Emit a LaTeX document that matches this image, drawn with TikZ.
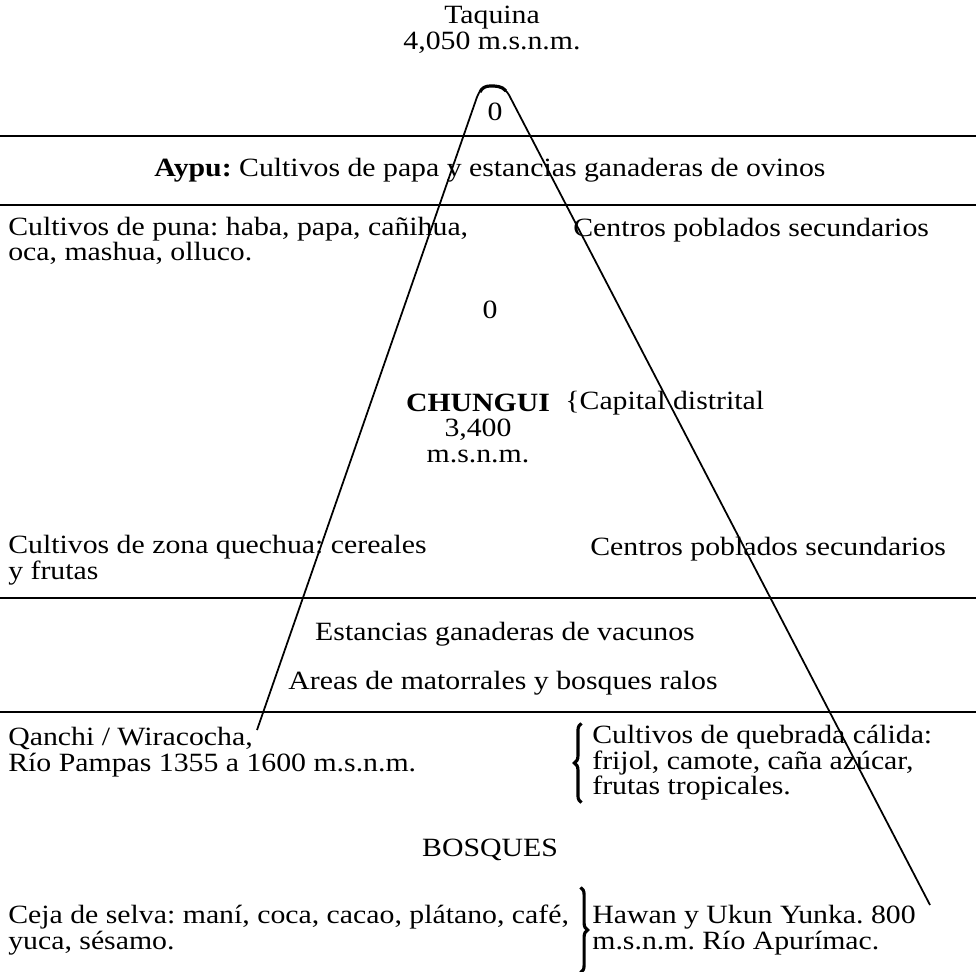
\documentclass[tikz,border=0pt]{standalone}
\usepackage{fontspec}
\setmainfont[FakeStretch=1.13]{Liberation Serif}
\usetikzlibrary{decorations.pathreplacing}
\tikzset{
  zonetxt/.style={inner sep=0pt, font=\fontsize{15}{14.5}\selectfont},
  coltxt/.style={zonetxt, anchor=west, align=left},
  floor/.style={line width=1.4pt},
  slope/.style={line width=1pt},
  bracket/.style={decorate, decoration={brace, amplitude=4pt}, line width=1.8pt}
}
\frenchspacing

\begin{document}
\begin{tikzpicture}[x=0.02cm, y=-0.02cm]
			%%%%% START %%%%%
			\useasboundingbox (0, 0) rectangle (976, 972);

			\node[zonetxt, align=center] (taquina) at (492, 30) {Taquina\\4,050 m.s.n.m.};
			\node[zonetxt] (cero1) at (495, 112) {0};

			\draw[floor] (0, 136) -- (976, 136);
			\node[zonetxt] (aypu) at (490, 170) {\textbf{Aypu:} Cultivos de papa y estancias ganaderas de ovinos};
			\draw[floor] (0, 205) -- (976, 205);

			\node[coltxt] (puna) at (8, 241) {Cultivos de puna: haba, papa, cañihua,\\oca, mashua, olluco.};
			\node[coltxt] (centros1) at (573, 230) {Centros poblados secundarios};
			\node[zonetxt] (cero2) at (490, 310) {0};

			\node[zonetxt, align=center] (chungui) at (478, 428) {\textbf{CHUNGUI}\\3,400\\m.s.n.m.};
			\node[coltxt] (capital) at (565, 403) {\{Capital distrital};

			\node[coltxt] (quechua) at (8, 560) {Cultivos de zona quechua: cereales\\y frutas};
			\node[coltxt] (centros2) at (590, 549) {Centros poblados secundarios};

			\draw[floor] (0, 598) -- (976, 598);
			\node[zonetxt] (vacunos) at (505, 634) {Estancias ganaderas de vacunos};
			\node[zonetxt] (matorral) at (503, 683) {Areas de matorrales y bosques ralos};
			\draw[floor] (0, 712) -- (976, 712);

			\node[coltxt] (qanchi) at (8, 752) {Qanchi / Wiracocha,\\Río Pampas 1355 a 1600 m.s.n.m.};
			\node[coltxt] (quebrada) at (592, 763) {Cultivos de quebrada cálida:\\frijol, camote, caña azúcar,\\frutas tropicales.};
			\draw[bracket] ([xshift=-6pt, yshift=-1pt]quebrada.south west) -- ([xshift=-6pt, yshift=1pt]quebrada.north west);

			\node[zonetxt] (bosques) at (490, 850) {BOSQUES};

			\node[coltxt] (ceja) at (8, 930) {Ceja de selva: maní, coca, cacao, plátano, café,\\yuca, sésamo.};
			\node[coltxt] (hawan) at (592, 930) {Hawan y Ukun Yunka. 800\\m.s.n.m. Río Apurímac.};
			\draw[bracket] ([xshift=-6.5pt, yshift=10pt]hawan.north west) -- ([xshift=-6.5pt, yshift=-10pt]hawan.south west);

			% the slope of the mountain
			\draw[slope] (257, 730) -- (477, 97) to[out=70, in=180] (490, 86) to[out=0, in=120] (509, 95) -- (930, 905);
			\draw[line width=1.8pt] (480, 92) to[out=65, in=180] (490, 86) to[out=0, in=130] (506, 91);
			%%%%% END %%%%%
\end{tikzpicture}
\end{document}
